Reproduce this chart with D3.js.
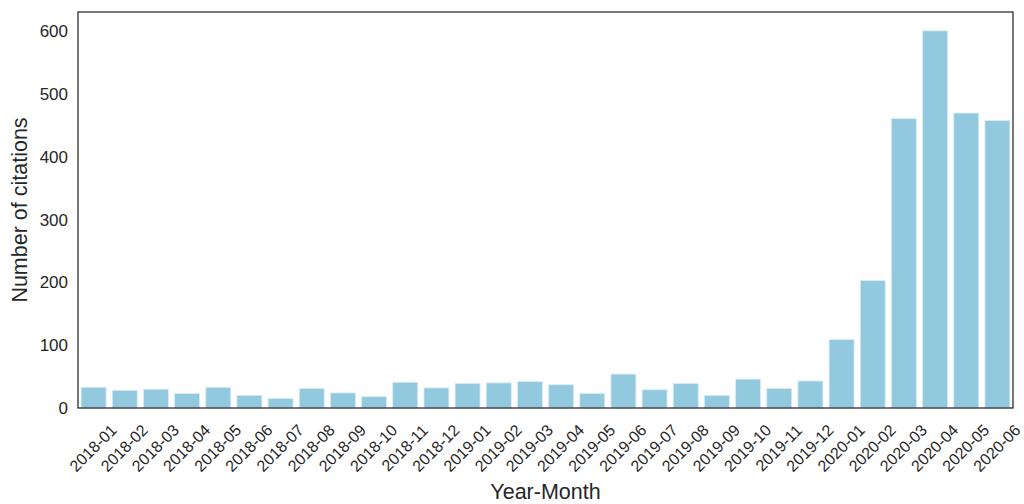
<!DOCTYPE html>
<html>
<head>
<meta charset="utf-8">
<script src="https://cdn.jsdelivr.net/npm/d3@7"></script>
<style>
  body { margin: 0; background: #fff; }
  svg text { font-family: "Liberation Sans", Arial, sans-serif; fill: #262626; }
</style>
</head>
<body>
<div id="chart"></div>
<script>
var months = ["2018-01","2018-02","2018-03","2018-04","2018-05","2018-06","2018-07","2018-08","2018-09","2018-10","2018-11","2018-12",
              "2019-01","2019-02","2019-03","2019-04","2019-05","2019-06","2019-07","2019-08","2019-09","2019-10","2019-11","2019-12",
              "2020-01","2020-02","2020-03","2020-04","2020-05","2020-06"];
var citations = [33, 28, 30, 23, 33, 20, 15, 31, 24, 18, 41, 32,
                 39, 40, 42, 37, 23, 54, 29, 39, 20, 46, 31, 43,
                 109, 203, 461, 601, 470, 458];
var yTicks = [0, 100, 200, 300, 400, 500, 600];

var width = 1024, height = 504;
var margin = {top: 12, right: 11, bottom: 96, left: 78};

var svg = d3.select("#chart").append("svg")
    .attr("width", width)
    .attr("height", height);

var x = d3.scaleBand()
    .domain(months)
    .range([margin.left, width - margin.right])
    .paddingInner(0.2)
    .paddingOuter(0.1);

var y = d3.scaleLinear()
    .domain([0, 631])
    .range([height - margin.bottom, margin.top]);

// bars
svg.selectAll("rect.bar")
    .data(citations)
    .enter().append("rect")
    .attr("class", "bar")
    .attr("x", function (d, i) { return x(months[i]); })
    .attr("y", function (d) { return y(d); })
    .attr("width", x.bandwidth())
    .attr("height", function (d) { return y(0) - y(d); })
    .attr("fill", "#93c9df")
    .attr("stroke", "#d6ecf5")
    .attr("stroke-width", 0.8);

// y axis
var yAxis = svg.append("g")
    .attr("transform", "translate(" + margin.left + ",0)")
    .call(d3.axisLeft(y).tickValues(yTicks).tickSize(0).tickPadding(10));
yAxis.select(".domain").remove();
yAxis.selectAll("text").style("font-size", "17px").attr("fill", "#262626");

// x axis
var xAxis = svg.append("g")
    .attr("transform", "translate(0," + (height - margin.bottom) + ")")
    .call(d3.axisBottom(x).tickSize(0));
xAxis.select(".domain").remove();
xAxis.selectAll("text")
    .style("font-size", "16px")
    .attr("fill", "#262626")
    .attr("text-anchor", "middle")
    .attr("dy", null)
    .attr("dominant-baseline", "central")
    .attr("y", 0)
    .attr("transform", "translate(-0.5,40) rotate(-45)");

// frame
svg.append("rect")
    .attr("x", margin.left)
    .attr("y", margin.top)
    .attr("width", width - margin.left - margin.right)
    .attr("height", height - margin.top - margin.bottom)
    .attr("fill", "none")
    .attr("stroke", "#262626")
    .attr("stroke-width", 1.25);

// axis titles
svg.append("text")
    .attr("x", (margin.left + width - margin.right) / 2)
    .attr("y", 499)
    .attr("text-anchor", "middle")
    .style("font-size", "21.5px")
    .text("Year-Month");

svg.append("text")
    .attr("transform", "translate(27," + ((margin.top + height - margin.bottom) / 2) + ") rotate(-90)")
    .attr("text-anchor", "middle")
    .style("font-size", "21.5px")
    .text("Number of citations");
</script>
</body>
</html>
